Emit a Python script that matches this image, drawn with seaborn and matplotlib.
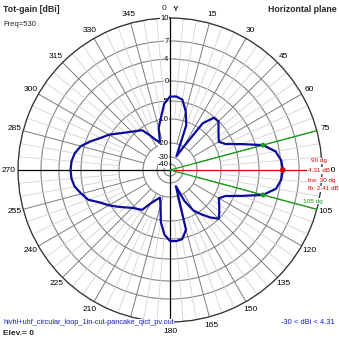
import numpy as np
import pandas as pd
import matplotlib
matplotlib.use("Agg")
import matplotlib.pyplot as plt
import seaborn as sns

# Horizontal-plane total gain (dBi), one sample every 5 degrees, clockwise from the Y axis
azimuth_deg = list(range(0, 360, 5))
gain_dbi = [
    -3.9, -3.8, -4.4, -7.3, -11.5, -28.5, -21.0, -8.3,      # 0 .. 35
    -5.2, -5.1, -6.6, -7.7, -8.5, -7.1, -3.3, 1.31,         # 40 .. 75
    3.3, 4.1, 4.31, 4.1, 3.4, 1.31, -3.3, -7.1,             # 80 .. 115
    -8.5, -7.5, -6.3, -5.0, -7.0, -9.2, -11.8, -17.0,       # 120 .. 155
    -27.0, -7.0, -4.7, -4.4, -4.5, -6.2, -9.5, -16.0,       # 160 .. 195
    -19.0, -17.5, -15.2, -11.0, -10.1, -9.3, -8.0, -6.4,    # 200 .. 235
    -4.6, -3.0, -0.5, 0.5, 1.4, 1.8, 1.9, 1.8,              # 240 .. 275
    1.4, 0.6, -1.2, -3.2, -4.6, -6.5, -8.0, -9.1,           # 280 .. 315
    -10.0, -11.0, -14.6, -17.5, -19.0, -13.0, -9.5, -5.7,   # 320 .. 355
]

peak_azimuth = 90
peak_gain = 4.31
half_power_azimuths = [75, 105]
half_power_gain = 1.31
beamwidth_deg = 30
front_back_db = 2.41
freq_mhz = 530
elevation_deg = 0
display_floor = -30
file_name = "hivhl+uhf_circular_loop_1in-cut-pancake_qict_pv.out"

ring_levels = [-40, -30, -20, -10, -5, 0, 4, 7, 10]
angle_ticks = list(range(15, 360, 15))

# Compressed radial gain scale used by the polar grid
_scale_db = np.array([-50, -40, -30, -20, -10, -5, 0, 4, 7, 10], dtype=float)
_scale_r = np.array([0, 6, 13, 27, 51, 69, 89, 111, 129, 152], dtype=float) / 152.0


def _fwd(v):
    return np.interp(np.asarray(v, dtype=float), _scale_db, _scale_r)


def _inv(v):
    return np.interp(np.asarray(v, dtype=float), _scale_r, _scale_db)


sns.set_style("white")
plt.rcParams["font.family"] = ["Liberation Sans", "DejaVu Sans"]

W = H = 339
fig = plt.figure(figsize=(W / 100, H / 100), dpi=100)
fig.patch.set_facecolor("white")
ax = fig.add_axes([0.0531, 0.0501, 0.8968, 0.8968], projection="polar")
ax.set_theta_zero_location("N")
ax.set_theta_direction(-1)
ax.set_facecolor("white")

R_MIN, R_MAX = -50, 10

# spokes: dark every 15 degrees, light every 5 degrees
for a in range(0, 360, 5):
    if a % 90 == 0:
        continue
    th = np.deg2rad(a)
    if a % 15 == 0:
        ax.plot([th, th], [-20, R_MAX], color="#7c7c7c", lw=0.7, zorder=1)
    else:
        ax.plot([th, th], [-10, R_MAX], color="#d2d2d2", lw=0.6, zorder=0.9)

# main axes through the centre
for a in (0, 180, 270):
    th = np.deg2rad(a)
    ax.plot([th, th], [R_MIN, R_MAX], color="black", lw=0.9, zorder=2)

# direction of maximum gain and the half-power directions
ax.plot([np.deg2rad(peak_azimuth)] * 2, [R_MIN, R_MAX], color="#e00000", lw=0.9, zorder=3)
for a in half_power_azimuths:
    ax.plot([np.deg2rad(a)] * 2, [R_MIN, R_MAX], color="#12a012", lw=0.9, zorder=3)

# radiation pattern (closed curve)
pattern = pd.DataFrame({
    "theta": np.deg2rad(azimuth_deg + [azimuth_deg[0]]),
    "gain": gain_dbi + [gain_dbi[0]],
})
sns.lineplot(data=pattern, x="theta", y="gain", sort=False, estimator=None,
             color="#0c0c9c", lw=1.6, ax=ax, zorder=5)

sns.scatterplot(x=[np.deg2rad(peak_azimuth)], y=[peak_gain], color="#e00000",
                s=16, edgecolor="none", ax=ax, zorder=6)
sns.scatterplot(x=np.deg2rad(half_power_azimuths), y=[half_power_gain] * 2,
                color="#12a012", s=12, edgecolor="none", ax=ax, zorder=6)

ax.set_xlabel("")
ax.set_ylabel("")
ax.set_rscale("function", functions=(_fwd, _inv))
ax.set_rlim(R_MIN, R_MAX)
ax.set_yticks(ring_levels)
ax.set_yticklabels([])
ax.yaxis.grid(True, color="#858585", lw=0.8)
ax.xaxis.grid(False)
ax.set_xticks(np.deg2rad(angle_ticks))
ax.set_xticklabels([str(a) for a in angle_ticks])
ax.tick_params(axis="x", pad=-0.5, labelsize=6, length=0, colors="black")
ax.tick_params(axis="y", length=0)
ax.spines["polar"].set_color("#333333")
ax.spines["polar"].set_linewidth(0.9)

# gain ring labels along the Y axis
for lvl in ring_levels:
    ax.annotate(f"{lvl}", xy=(0, lvl), xytext=(-1.0, 0), textcoords="offset points",
                ha="right", va="center", fontsize=5.5, color="black", zorder=4,
                bbox=dict(boxstyle="square,pad=0.02", fc="white", ec="none"))


def fpos(x, y):
    return x / W, 1 - y / H


fig.text(*fpos(3, 9.5), "Tot-gain [dBi]", fontsize=6.3, fontweight="bold", ha="left", va="center")
fig.text(*fpos(337, 9.5), "Horizontal plane", fontsize=6.3, fontweight="bold", ha="right", va="center")
fig.text(*fpos(3, 24.5), f"Freq={freq_mhz}", fontsize=5.5, ha="left", va="center")
fig.text(*fpos(164.5, 8.5), "0", fontsize=6, ha="center", va="center")
fig.text(*fpos(176, 9.5), "Y", fontsize=6, fontweight="bold", ha="center", va="center")

white = dict(boxstyle="square,pad=0.1", fc="white", ec="none")
fig.text(*fpos(3, 323), file_name, fontsize=5.3, color="#1a1ad0", ha="left", va="center", bbox=white)
fig.text(*fpos(3, 333.5), f"Elev.= {elevation_deg}", fontsize=6, fontweight="bold", ha="left", va="center")
fig.text(*fpos(335, 323), f"{display_floor} < dBi < {peak_gain}", fontsize=5.4, color="#1a1ad0",
         ha="right", va="center", bbox=white)

red = "#e00000"
fig.text(*fpos(311, 161), f"{peak_azimuth} dg", fontsize=4.6, color=red, ha="left", va="center", bbox=white)
fig.text(*fpos(308, 170.5), f"{peak_gain} dB", fontsize=4.6, color=red, ha="left", va="center", bbox=white)
fig.text(*fpos(308, 180), f"bw: {beamwidth_deg} dg", fontsize=4.6, color=red, ha="left", va="center", bbox=white)
fig.text(*fpos(308, 189), f"fb: {front_back_db} dB", fontsize=4.6, color=red, ha="left", va="center", bbox=white)
fig.text(*fpos(303, 201), f"{half_power_azimuths[1]} dg", fontsize=4.6, color="#12a012", ha="left",
         va="center", bbox=white)

fig.savefig("out.png", dpi=100, facecolor="white")
